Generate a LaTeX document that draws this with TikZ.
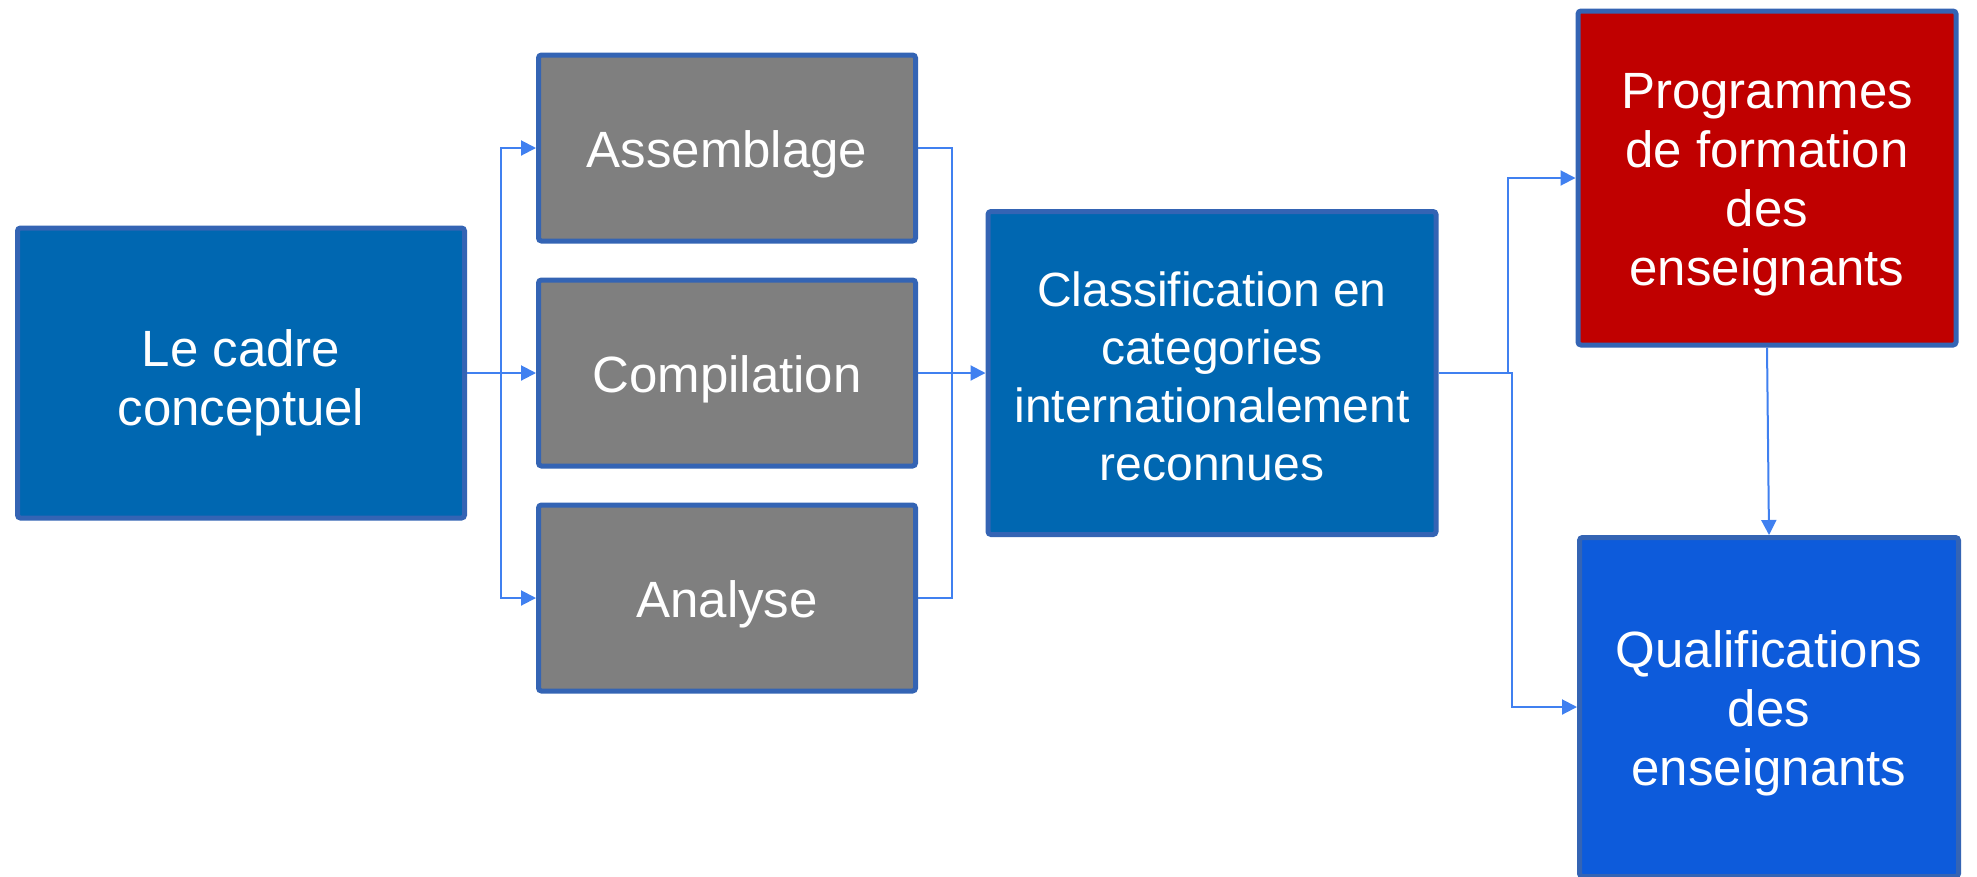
\documentclass[tikz,border=0pt]{standalone}
\usepackage{fontspec}
\setmainfont{Liberation Sans}
\usetikzlibrary{arrows.meta}
\newcommand{\topstrut}{\rule{0pt}{49pt}}
\begin{document}
\begin{tikzpicture}[x=1pt,y=-1pt,
    box/.style={rectangle,draw=edge,line width=5pt,rounded corners=3pt,inner sep=0pt,
        text=white,align=center,font=\fontsize{51}{59}\selectfont},
    wide/.style={box,minimum width=447pt},
    small/.style={box,minimum width=377pt,minimum height=186pt},
    link/.style={draw=arrowc,line width=2pt},
    conn/.style={link,-{Triangle[length=15pt,width=15pt]}}]
        \definecolor{edge}{RGB}{52,100,180}
        \definecolor{bleu}{RGB}{0,103,177}
        \definecolor{gris}{RGB}{127,127,127}
        \definecolor{rouge}{RGB}{192,0,0}
        \definecolor{bleuvif}{RGB}{13,91,219}
        \definecolor{arrowc}{RGB}{64,128,240}
        \useasboundingbox[fill=white] (0,0) rectangle (1977,876);
        % boxes
        \node[wide,fill=bleu,minimum height=290pt] (cadre) at (241,373)
            {\rule{0pt}{57pt}Le cadre\\conceptuel};
        \node[small,fill=gris] (asm) at (727,148) {\topstrut Assemblage};
        \node[small,fill=gris] (comp) at (727,373) {\topstrut Compilation};
        \node[small,fill=gris] (ana) at (727,598) {\topstrut Analyse};
        \node[box,fill=bleu,minimum width=448pt,minimum height=323pt,
            font=\fontsize{48}{58}\selectfont] (cls) at (1212,373)
            {\rule{0pt}{42pt}Classification en\\categories\\internationalement\\reconnues};
        \node[box,fill=rouge,minimum width=378pt,minimum height=334pt] (prog) at (1767,178)
            {\topstrut Programmes\\de formation\\des\\enseignants};
        \node[box,fill=bleuvif,minimum width=379pt,minimum height=339pt] (qual) at (1769,707)
            {\topstrut Qualifications\\des\\enseignants};
        % connectors
        \coordinate (split) at (501,373);
        \coordinate (join) at (952,373);
        \draw[conn] (cadre.east) -- (comp.west);
        \draw[conn] (split) |- (asm.west);
        \draw[conn] (split) |- (ana.west);
        \draw[link] (asm.east) -| (join) |- (ana.east);
        \draw[conn] (comp.east) -- (cls.west);
        \draw[conn] (cls.east) -- ++(69,0) |- (prog.west);
        \draw[conn] (cls.east) -- ++(73,0) |- (qual.west);
        \draw[conn] (prog.south) -- (qual.north);
    \end{tikzpicture}
\end{document}
